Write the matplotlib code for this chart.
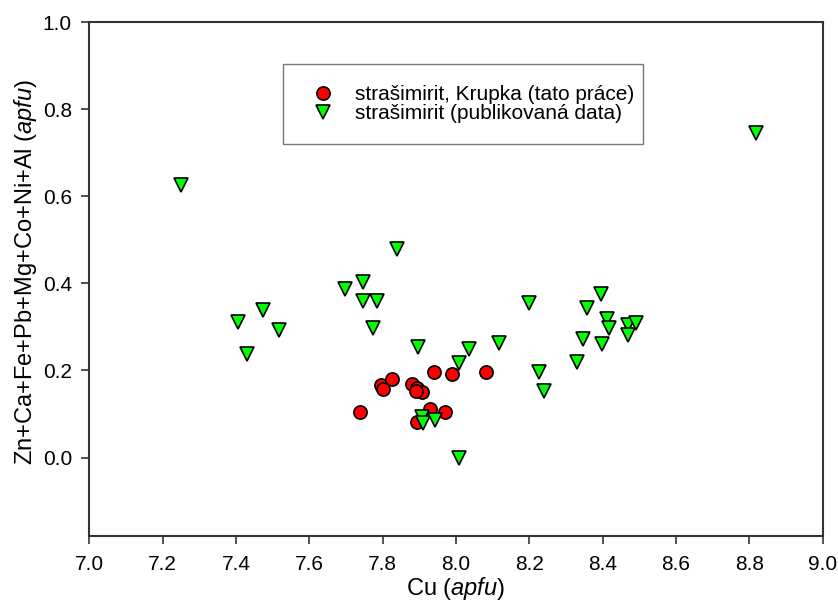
import numpy as np
import matplotlib
matplotlib.use('Agg')
import matplotlib.pyplot as plt

plt.rcParams['font.family'] = ['Liberation Sans', 'DejaVu Sans']
plt.rcParams['mathtext.fontset'] = 'custom'
plt.rcParams['mathtext.rm'] = 'Liberation Sans'
plt.rcParams['mathtext.it'] = 'Liberation Sans:italic'

# strašimirit, Krupka (tato práce)
cu_krupka = [7.739, 7.796, 7.801, 7.826, 7.879, 7.895, 7.908, 7.890,
             7.939, 7.990, 8.081, 7.929, 7.970, 7.895]
sum_krupka = [0.104, 0.167, 0.158, 0.180, 0.168, 0.159, 0.150, 0.154,
              0.196, 0.192, 0.196, 0.112, 0.104, 0.081]

# strašimirit (publikovaná data)
cu_pub = [7.251, 8.818, 7.840, 7.747, 7.696, 7.747, 7.785, 7.775, 7.473,
          7.405, 7.516, 7.431, 7.897, 8.007, 8.036, 8.118, 8.199, 8.227,
          8.241, 8.329, 8.346, 8.356, 8.395, 8.397, 8.413, 8.418, 8.470,
          8.492, 8.468, 7.906, 7.909, 7.942, 8.008]
sum_pub = [0.626, 0.746, 0.479, 0.403, 0.387, 0.360, 0.360, 0.297, 0.339,
           0.311, 0.293, 0.237, 0.255, 0.218, 0.249, 0.263, 0.356, 0.196,
           0.152, 0.219, 0.272, 0.344, 0.375, 0.261, 0.318, 0.297, 0.305,
           0.309, 0.282, 0.094, 0.080, 0.087, -0.001]

xticks = np.arange(7.0, 9.01, 0.2)
yticks = np.arange(0.0, 1.01, 0.2)

fig = plt.figure(figsize=(8.38, 6.03), dpi=100)
ax = fig.add_axes([0.1066, 0.1111, 0.8751, 0.8524])

ax.plot(cu_krupka, sum_krupka, 'o', ms=9.5, mfc='#ff0000', mec='black', mew=1.2,
        ls='none', label='strašimirit, Krupka (tato práce)')
ax.plot(cu_pub, sum_pub, 'v', ms=9.5, mfc='#00ff00', mec='black', mew=1.2,
        ls='none', label='strašimirit (publikovaná data)')

ax.set_xlim(7.0, 9.0)
ax.set_ylim(-0.18, 1.0)
ax.set_xticks(xticks)
ax.set_xticklabels(['%.1f' % t for t in xticks])
ax.set_yticks(yticks)
ax.set_yticklabels(['%.1f' % t for t in yticks])
ax.tick_params(direction='out', length=6, width=1.2, color='#333333', labelsize=15)
ax.tick_params(axis='x', pad=8)
ax.tick_params(axis='y', pad=6.5)
for sp in ax.spines.values():
    sp.set_color('#333333')
    sp.set_linewidth(1.5)

ax.set_xlabel('Cu ($\\mathit{apfu}$)', fontsize=17)
ax.set_ylabel('Zn+Ca+Fe+Pb+Mg+Co+Ni+Al ($\\mathit{apfu}$)', fontsize=17)
ax.xaxis.set_label_coords(0.5, -0.075)
ax.yaxis.set_label_coords(-0.069, 0.5146)

leg = ax.legend(loc='upper left', bbox_to_anchor=(0.2637, 0.918, 0.4913, 0.0),
                mode='expand', fontsize=15, borderpad=1.0, handlelength=1.87,
                handletextpad=0.6, labelspacing=0.0, fancybox=False,
                borderaxespad=0.0, frameon=True)
leg.get_frame().set_edgecolor('#555555')
leg.get_frame().set_linewidth(1.0)

fig.savefig('out.png', dpi=100)
